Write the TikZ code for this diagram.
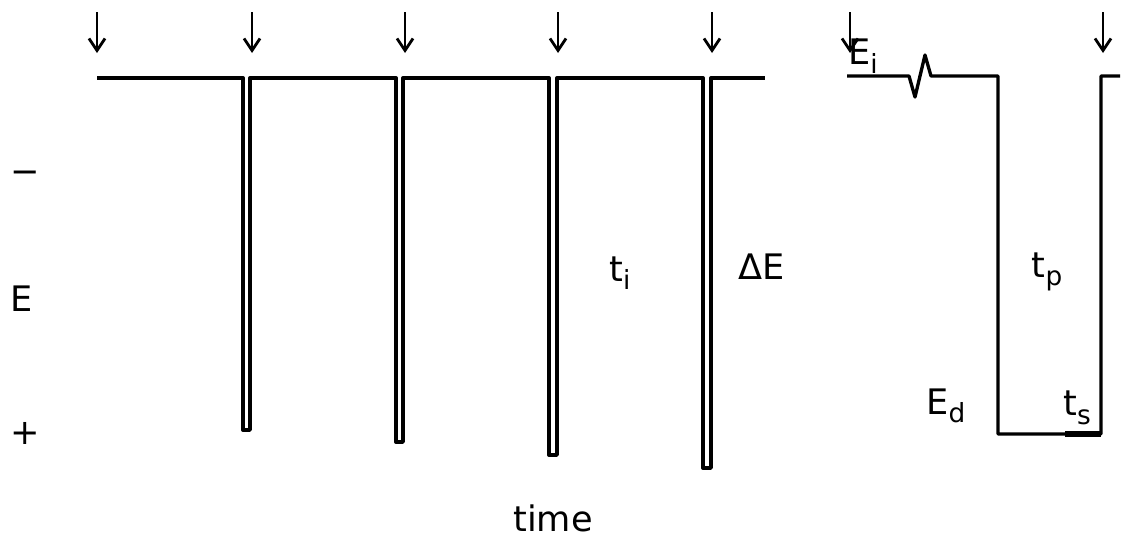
\documentclass[tikz,border=0pt]{standalone}
\usepackage{fontspec}
\setmainfont{DejaVu Sans}
\usetikzlibrary{arrows.meta}
\newcommand{\lowsub}[1]{\raisebox{-0.45ex}{\fontsize{15}{18}\selectfont #1}}
\tikzset{
  pulse line/.style={draw=black, line width=1.9pt, line join=round},
  mark arrow/.style={draw=black, line width=1.6pt, -{Straight Barb[length=2.4mm, width=3.2mm]}},
  plot label/.style={font=\fontsize{20}{24}\selectfont, inner sep=0pt},
}
\begin{document}
\begin{tikzpicture}[x=0.02cm, y=-0.02cm]
  \useasboundingbox (0,0) rectangle (1122,545);

  % Train of short pulses
  \draw[pulse line] (97,78) -- (243,78) -- (243,430) -- (250,430) -- (250,78)
    -- (396,78) -- (396,442) -- (403,442) -- (403,78)
    -- (549,78) -- (549,455) -- (557,455) -- (557,78)
    -- (703,78) -- (703,468) -- (711,468) -- (711,78) -- (765,78);

  % Single long pulse with break in the baseline
  \draw[pulse line] (847,76) -- (909,76) -- (915,97) -- (925,55) -- (931,76)
    -- (998,76) -- (998,434) -- (1101,434) -- (1101,76) -- (1120,76);
  \draw[draw=black, line width=3.5pt] (1065,434) -- (1101,434);

  % Sampling marks
  \foreach \x in {97,252,405,558,712,850,1103}
    \draw[mark arrow] (\x,12) -- (\x,53);

  % Axis and labels
  \node[plot label] (minus) at (25,177) {−};
  \node[plot label] (elab) at (22,299) {E};
  \node[plot label] (plus) at (25,433) {+};
  \node[plot label] (tint) at (620,273) {t\lowsub{i}};
  \node[plot label] (delta) at (762,267) {ΔE};
  \node[plot label] (einit) at (863,56) {E\lowsub{i}};
  \node[plot label] (tpulse) at (1047,272) {t\lowsub{p}};
  \node[plot label] (edep) at (946,406) {E\lowsub{d}};
  \node[plot label] (tsamp) at (1077,408) {t\lowsub{s}};
  \node[plot label] (time) at (553,518) {time};
\end{tikzpicture}
\end{document}
